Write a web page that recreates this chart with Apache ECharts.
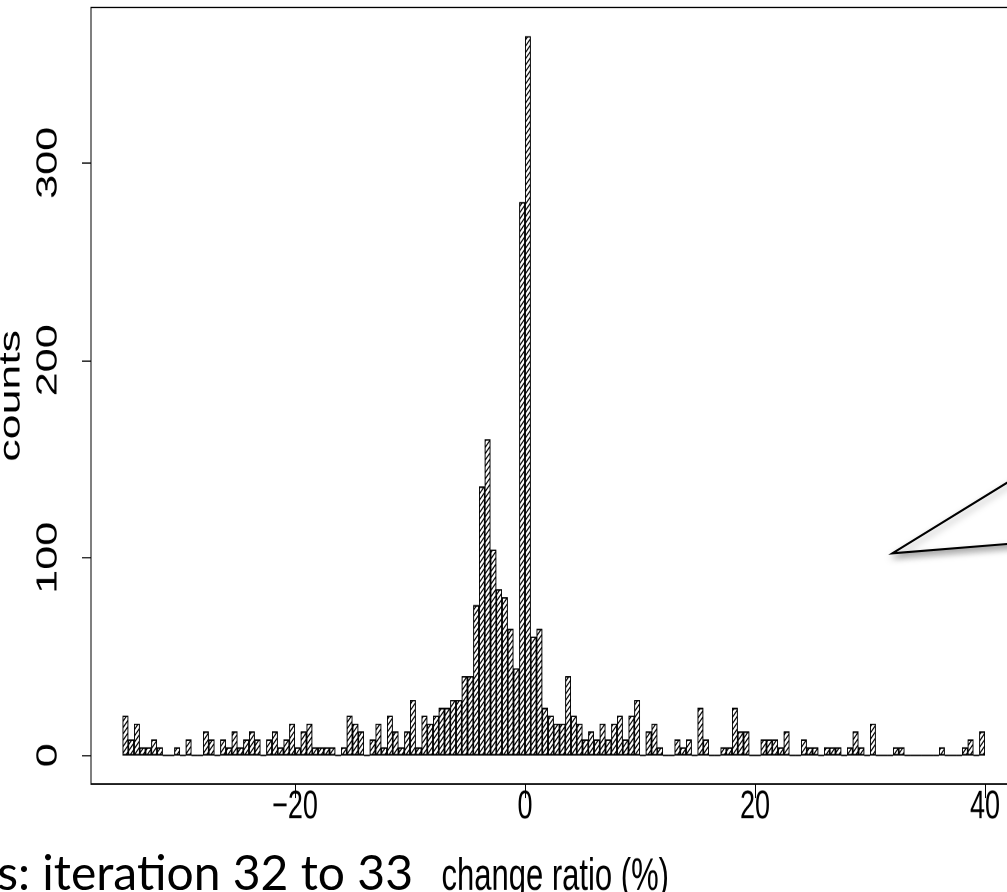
<!DOCTYPE html>
<html>
<head>
<meta charset="utf-8">
<script src="https://cdn.jsdelivr.net/npm/echarts@6/dist/echarts.min.js"></script>
<style>
  html, body { margin: 0; padding: 0; background: #fff; overflow: hidden; }
  #wrap { position: absolute; left: 0; top: 0; width: 1007px; height: 892px; overflow: hidden; background: #fff; }
  /* the source plot is a picture stretched vertically on a slide */
  #chart { position: absolute; left: 0; top: 0; width: 1007px; height: 599px; transform: scaleY(1.4891); transform-origin: 0 0; }
  #over { position: absolute; left: 0; top: 0; width: 1007px; height: 892px; pointer-events: none; }
</style>
</head>
<body>
<div id="wrap"><div id="chart"></div><div id="over"></div></div>
<script>
// ---- data ----
const binStart = -35;      // first histogram break (%)
const binWidth = 0.5;      // width of each bin (%)
const counts = [
  20, 8, 16, 4, 4, 8, 4, 0, 0, 4,
  0, 8, 0, 0, 12, 8, 0, 8, 4, 12,
  4, 8, 12, 8, 0, 8, 12, 4, 8, 16,
  4, 12, 16, 4, 4, 4, 4, 0, 4, 20,
  16, 12, 0, 8, 16, 4, 20, 12, 4, 12,
  28, 4, 20, 16, 20, 24, 24, 28, 28, 40,
  40, 76, 136, 160, 104, 84, 80, 64, 44, 280,
  364, 60, 64, 24, 20, 16, 16, 40, 20, 16,
  8, 12, 8, 16, 8, 16, 20, 8, 20, 28,
  0, 12, 16, 4, 0, 0, 8, 4, 8, 0,
  24, 8, 0, 0, 4, 4, 24, 12, 12, 0,
  0, 8, 8, 8, 4, 12, 0, 0, 8, 4,
  4, 0, 4, 4, 4, 0, 4, 12, 4, 0,
  16, 0, 0, 0, 4, 4, 0, 0, 0, 0,
  0, 0, 4, 0, 0, 0, 4, 8, 0, 12
];
const xTicks = [-20, 0, 20, 40];
const yTicks = [0, 100, 200, 300];
const xTitle = 'change ratio (%)';
const yTitle = 'counts';
const slideText = 's: iteration 32 to 33';

// ---- histogram bars through the library's value axes ----
const barData = counts.map((c, i) => [binStart + binWidth * (i + 0.5), c]);

const axisFont = 'Liberation Sans, Arial, Helvetica, sans-serif';
const chart = echarts.init(document.getElementById('chart'), null, { renderer: 'canvas', devicePixelRatio: 2 });
chart.setOption({
  animation: false,
  backgroundColor: '#fff',
  grid: { left: 91, top: 5.04, width: 928.5, height: 521.5, containLabel: false, outerBoundsMode: 'none',
          show: true, borderColor: '#000', borderWidth: 1, backgroundColor: 'transparent' },
  xAxis: {
    type: 'value', min: -37.74, max: 43,
    axisLine: { show: false, onZero: false },
    splitLine: { show: false },
    axisTick: { show: true, length: 9.4, customValues: xTicks, lineStyle: { color: '#000', width: 1 } },
    axisLabel: { customValues: xTicks, color: '#000', fontSize: 27, fontFamily: axisFont, margin: 2,
      formatter: v => (v < 0 ? '\u2212' + Math.abs(v) : String(v)) },
    name: xTitle, nameLocation: 'middle', nameGap: 47,
    nameTextStyle: { color: '#000', fontSize: 31, fontFamily: axisFont }
  },
  yAxis: {
    type: 'value', min: -14.56, max: 378.56,
    axisLine: { show: false, onZero: false },
    splitLine: { show: false },
    axisTick: { show: true, length: 9, customValues: yTicks, lineStyle: { color: '#000', width: 0.8 } },
    axisLabel: { customValues: yTicks, rotate: 90, color: '#000', fontSize: 29, fontFamily: axisFont, margin: 28 },
    name: yTitle, nameLocation: 'middle', nameRotate: 90, nameGap: 50,
    nameTextStyle: { color: '#000', fontSize: 30, fontFamily: axisFont }
  },
  series: [{
    type: 'bar',
    data: barData,
    barWidth: '100%',
    silent: true,
    itemStyle: {
      color: '#fff',
      borderColor: '#000',
      borderWidth: 0.8,
      decal: {
        symbol: 'rect', symbolSize: 1, color: '#000',
        dashArrayX: [1, 0], dashArrayY: [1, 1.5],
        rotation: -Math.PI / 4
      }
    }
  }]
});

// ---- slide overlay (not stretched): cut-off title and a callout pointer ----
const over = echarts.init(document.getElementById('over'), null, { renderer: 'canvas' });
over.setOption({
  animation: false,
  backgroundColor: 'transparent',
  graphic: [
    {
      type: 'polygon',
      shape: { points: [[892.3, 553.3], [1020, 474.7], [1020, 542.9]] },
      style: { fill: '#fff', stroke: '#000', lineWidth: 2, lineJoin: 'miter',
               shadowBlur: 7, shadowColor: 'rgba(0,0,0,0.35)', shadowOffsetX: 1, shadowOffsetY: 4 }
    },
    {
      type: 'text',
      style: { text: slideText, x: 413, y: 899, align: 'right', verticalAlign: 'bottom',
               font: '48px Lato, "Open Sans", sans-serif', fill: '#000' }
    }
  ]
});
</script>
</body>
</html>
